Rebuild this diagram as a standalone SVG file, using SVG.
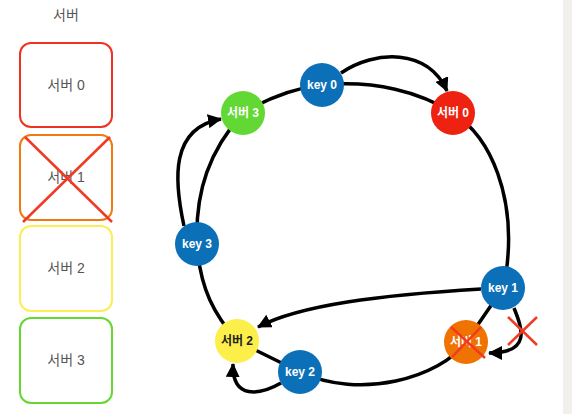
<svg xmlns="http://www.w3.org/2000/svg" width="572" height="414" viewBox="0 0 572 414">
<style>
.t{font-family:"Liberation Sans","Noto Sans CJK KR",sans-serif;}
.box{fill:#fff;stroke-width:2;}
.bl{font-size:14px;fill:#555;text-anchor:middle;dominant-baseline:central;}
.nl{font-size:12px;font-weight:bold;fill:#fff;text-anchor:middle;dominant-baseline:central;}
.ring{fill:none;stroke:#000;stroke-width:3.5;}
.arr{fill:none;stroke:#000;stroke-width:3.5;marker-end:url(#ah);}
.x{stroke:#f03a24;stroke-width:2.5;}
.key{fill:#0b70b8;}
</style>
<defs>
<marker id="ah" markerUnits="userSpaceOnUse" markerWidth="15" markerHeight="14" refX="13" refY="7" orient="auto"><path d="M0,0 L14,7 L0,14 z" fill="#000"/></marker>
</defs>
<rect x="0" y="0" width="572" height="414" fill="#fff"/>
<rect x="563" y="0" width="9" height="414" fill="#f1f0ed"/>
<text class="t bl" x="66" y="15">서버</text>
<g id="box0"><rect class="box" x="20" y="43" width="92" height="84" rx="11" stroke="#ee3322"/><text class="t bl" x="66" y="85">서버 0</text></g>
<g id="box1"><rect class="box" x="20" y="135" width="92" height="85" rx="11" stroke="#f07a10"/><text class="t bl" x="66" y="177">서버 1</text>
<line class="x" x1="25" y1="137" x2="112" y2="222"/><line class="x" x1="110" y1="137" x2="23" y2="222"/></g>
<g id="box2"><rect class="box" x="20" y="226" width="92" height="85" rx="11" stroke="#fdee55"/><text class="t bl" x="66" y="268">서버 2</text></g>
<g id="box3"><rect class="box" x="20" y="318" width="92" height="85" rx="11" stroke="#66d633"/><text class="t bl" x="66" y="360">서버 3</text></g>
<g id="connectors">
<path class="ring" d="M243 113 C270 97 295 88 322 85 C375 80 420 92 453 113 C495 140 512 200 508 255 C507 270 505 280 503 288 L466 342 C440 378 360 400 300 372 L237 341 C215 315 200 290 197 244 C195 190 210 150 243 113 Z"/>
<path class="arr" d="M341 73 C375 50 428 48 447 91"/>
<path class="arr" d="M184 226 C174 180 170 128 221 119"/>
<path class="arr" d="M481 289 C380 295 300 305 258 327"/>
<path class="arr" d="M514 308 C522 328 532 353 489 353"/>
<path class="arr" d="M281 383 C260 395 232 400 233 364"/>
<line class="x" x1="508" y1="317" x2="537" y2="345"/><line class="x" x1="537" y1="317" x2="508" y2="345"/>
</g>
<g id="key0"><circle class="key" cx="322" cy="85" r="22"/><text class="t nl" x="322" y="85">key 0</text></g>
<g id="server3"><circle cx="243" cy="113" r="22" fill="#62d835"/><text class="t nl" x="243" y="113">서버 3</text></g>
<g id="server0"><circle cx="453" cy="113" r="22" fill="#ee2211"/><text class="t nl" x="453" y="113">서버 0</text></g>
<g id="key3"><circle class="key" cx="197" cy="244" r="22"/><text class="t nl" x="197" y="244">key 3</text></g>
<g id="key1"><circle class="key" cx="503" cy="288" r="22"/><text class="t nl" x="503" y="288">key 1</text></g>
<g id="server1"><circle cx="466" cy="342" r="22" fill="#f07200"/><text class="t nl" x="466" y="342">서버 1</text>
<line class="x" x1="451" y1="327" x2="485" y2="358"/><line class="x" x1="481" y1="327" x2="452" y2="357"/></g>
<g id="server2"><circle cx="237" cy="341" r="22" fill="#fdef4a"/><text class="t nl" x="237" y="341" style="fill:#222">서버 2</text></g>
<g id="key2"><circle class="key" cx="300" cy="372" r="22"/><text class="t nl" x="300" y="372">key 2</text></g>
</svg>
